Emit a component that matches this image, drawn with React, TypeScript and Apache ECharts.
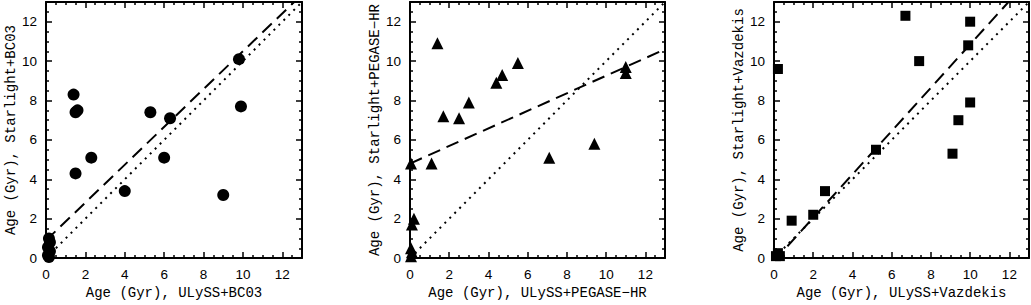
import React, { useEffect, useRef } from "react";
import * as echarts from "echarts";

// ---- data ----
const bc03X = [1.4, 1.5, 1.6, 1.5, 2.3, 4.0, 5.3, 6.3, 6.0, 9.0, 9.8, 9.9, 0.15, 0.2, 0.1, 0.2, 0.1, 0.15];
const bc03Y = [8.3, 7.4, 7.5, 4.3, 5.1, 3.4, 7.4, 7.1, 5.1, 3.2, 10.1, 7.7, 1.0, 0.8, 0.55, 0.35, 0.15, 0.05];
const pegX = [1.4, 1.7, 2.5, 3.0, 1.1, 4.4, 4.7, 5.5, 7.1, 9.4, 11.0, 11.0, 0.2, 0.1, 0.05, 0.05, 0.1, 0.05];
const pegY = [10.9, 7.2, 7.1, 7.9, 4.8, 8.9, 9.3, 9.9, 5.1, 5.8, 9.7, 9.4, 2.0, 1.7, 4.8, 0.5, 0.3, 0.1];
const vazX = [0.2, 0.9, 2.0, 2.6, 5.2, 6.7, 7.4, 10.0, 9.9, 10.0, 9.4, 9.1, 0.2, 0.1, 0.3];
const vazY = [9.6, 1.9, 2.2, 3.4, 5.5, 12.3, 10.0, 12.0, 10.8, 7.9, 7.0, 5.3, 0.25, 0.1, 0.1];

// linear fits: [slope, intercept]
const bc03Fit = [0.96, 0.9];
const pegFit = [0.446, 4.8];
const vazFit = [1.1, -0.15];

const axisMin = 0;
const axisMax = 13;
const majorTicks = [0, 2, 4, 6, 8, 10, 12];
const minorTicks = [0.5, 1, 1.5, 2.5, 3, 3.5, 4.5, 5, 5.5, 6.5, 7, 7.5, 8.5, 9, 9.5, 10.5, 11, 11.5, 12.5];

const xNames = ["Age (Gyr), ULySS+BC03", "Age (Gyr), ULySS+PEGASE\u2212HR", "Age (Gyr), ULySS+Vazdekis"];
const yNames = ["Age (Gyr), Starlight+BC03", "Age (Gyr), Starlight+PEGASE\u2212HR", "Age (Gyr), Starlight+Vazdekis"];
const symbols = ["circle", "triangle", "rect"];

export default function App() {
  const ref = useRef<HTMLDivElement>(null);
  useEffect(() => {
    if (!ref.current) return;
    const chart = echarts.init(ref.current, null, { renderer: "svg" });

    const grids = [
      { left: 46, top: 2, width: 256, height: 261 },
      { left: 410, top: 2, width: 255, height: 261 },
      { left: 774, top: 2, width: 255, height: 261 },
    ];
    const yNameGaps = [24, 28, 28];
    const xAxes: any[] = [];
    const yAxes: any[] = [];
    const series: any[] = [];
    const monoFont = "Liberation Mono";
    const tickFont = "Liberation Sans";

    const makeAxis = (gi: number, pos: string, major: boolean, isX: boolean, name?: string, nameGap?: number) => {
      const labelled = major && (pos === "bottom" || pos === "left");
      return {
        type: "value",
        gridIndex: gi,
        position: pos,
        min: axisMin,
        max: axisMax,
        interval: 2,
        name: labelled ? name : "",
        nameLocation: "middle",
        nameGap: nameGap,
        nameTextStyle: { fontFamily: monoFont, fontSize: 14, color: "#000" },
        axisLine: { show: major, onZero: false, lineStyle: { color: "#000", width: 2 } },
        axisTick: {
          show: true,
          inside: true,
          length: major ? 6 : 3,
          customValues: major ? majorTicks : minorTicks,
          lineStyle: { color: "#000", width: 1.5 },
        },
        axisLabel: {
          show: labelled,
          customValues: majorTicks,
          margin: 9,
          fontFamily: tickFont,
          fontSize: 13.5,
          color: "#000",
        },
        splitLine: { show: false },
        minorTick: { show: false },
      };
    };

    const datasets = [
      { xs: bc03X, ys: bc03Y, fit: bc03Fit, size: 12 },
      { xs: pegX, ys: pegY, fit: pegFit, size: 12 },
      { xs: vazX, ys: vazY, fit: vazFit, size: 10 },
    ];

    grids.forEach((g, gi) => {
      const xi = xAxes.length;
      xAxes.push(makeAxis(gi, "bottom", true, true, xNames[gi], 25));
      xAxes.push(makeAxis(gi, "top", true, true));
      xAxes.push(makeAxis(gi, "bottom", false, true));
      xAxes.push(makeAxis(gi, "top", false, true));
      const yi = yAxes.length;
      yAxes.push(makeAxis(gi, "left", true, false, yNames[gi], yNameGaps[gi]));
      yAxes.push(makeAxis(gi, "right", true, false));
      yAxes.push(makeAxis(gi, "left", false, false));
      yAxes.push(makeAxis(gi, "right", false, false));

      const d = datasets[gi];
      // one-to-one dotted line
      series.push({
        type: "line",
        xAxisIndex: xi,
        yAxisIndex: yi,
        data: [[axisMin, axisMin], [axisMax, axisMax]],
        symbol: "none",
        clip: true,
        silent: true,
        lineStyle: { color: "#000", width: 2, type: [2, 5] },
      });
      // dashed fit line
      series.push({
        type: "line",
        xAxisIndex: xi,
        yAxisIndex: yi,
        data: [
          [axisMin, d.fit[1] + d.fit[0] * axisMin],
          [axisMax, d.fit[1] + d.fit[0] * axisMax],
        ],
        symbol: "none",
        clip: true,
        silent: true,
        lineStyle: { color: "#000", width: 2, type: [13, 7] },
      });
      series.push({
        type: "scatter",
        xAxisIndex: xi,
        yAxisIndex: yi,
        symbol: symbols[gi],
        symbolSize: d.size,
        data: d.xs.map((x, i) => [x, d.ys[i]]),
        itemStyle: { color: "#000", opacity: 1 },
        clip: true,
      });
    });

    chart.setOption({
      animation: false,
      backgroundColor: "#fff",
      grid: grids,
      xAxis: xAxes,
      yAxis: yAxes,
      series,
    });
    return () => chart.dispose();
  }, []);

  return (
    <div
      ref={ref}
      style={{ position: "fixed", left: 0, top: 0, width: 1031, height: 305, background: "#fff" }}
    />
  );
}
